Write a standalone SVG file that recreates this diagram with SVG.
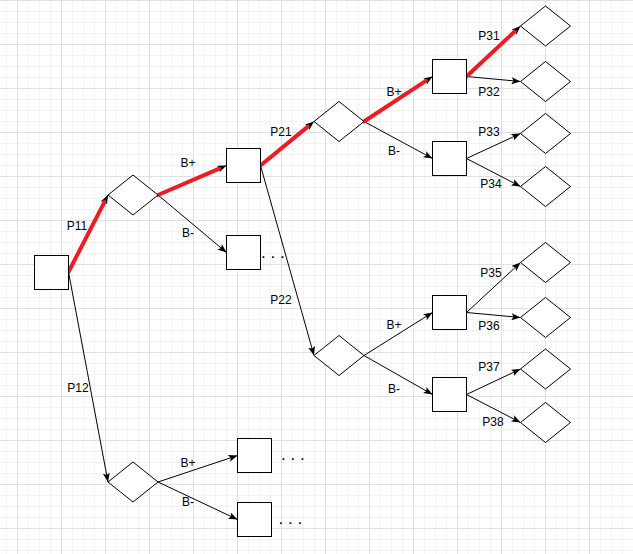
<svg xmlns="http://www.w3.org/2000/svg" width="633" height="554" viewBox="0 0 633 554">
  <style>
    .box { fill: #ffffff; stroke: #000000; stroke-width: 1; }
    .dia { fill: #ffffff; stroke: #000000; stroke-width: 1; }
    .edge { fill: none; stroke: #000000; stroke-width: 1; marker-end: url(#arrow); }
    .hot { fill: none; stroke: #ed1c24; stroke-width: 4; stroke-linecap: round; }
    .lbl { font-family: "Liberation Sans", Arial, Helvetica, sans-serif; font-size: 12px; fill: #000000; text-anchor: middle; }
    .dots { font-family: "Liberation Sans", Arial, Helvetica, sans-serif; font-size: 17px; fill: #000000; }
  </style>
  <defs>
    <pattern id="gridMinor" patternUnits="userSpaceOnUse" x="6" y="0" width="11" height="11">
      <rect x="0" y="0" width="1" height="11" fill="#f3f3f3"/>
      <rect x="0" y="0" width="11" height="1" fill="#f3f3f3"/>
    </pattern>
    <pattern id="gridMajor" patternUnits="userSpaceOnUse" x="17" y="0" width="44" height="44">
      <rect x="0" y="0" width="1" height="44" fill="#e0e0e0"/>
      <rect x="0" y="0" width="44" height="1" fill="#e0e0e0"/>
    </pattern>
    <marker id="arrow" viewBox="0 0 9 7" refX="9" refY="3.5" markerWidth="9" markerHeight="7" markerUnits="userSpaceOnUse" orient="auto">
      <path d="M0,0 L9,3.5 L0,7 L2,3.5 z" fill="#000000"/>
    </marker>
  </defs>

  <!-- background grid -->
  <rect width="633" height="554" fill="#ffffff"/>
  <rect width="633" height="554" fill="url(#gridMinor)"/>
  <rect width="633" height="554" fill="url(#gridMajor)"/>

  <!-- connectors -->
  <g id="connectors">
    <line class="edge" x1="68.5" y1="272" x2="108" y2="195"/>
    <line class="edge" x1="68.5" y1="272" x2="108" y2="482"/>
    <line class="edge" x1="158" y1="195" x2="226.5" y2="165.5"/>
    <line class="edge" x1="158" y1="195" x2="226.5" y2="252.5"/>
    <line class="edge" x1="158" y1="482" x2="237.5" y2="455.5"/>
    <line class="edge" x1="158" y1="482" x2="237.5" y2="519.5"/>
    <line class="edge" x1="260.5" y1="165.5" x2="314" y2="121.5"/>
    <line class="edge" x1="260.5" y1="165.5" x2="314" y2="355.5"/>
    <line class="edge" x1="364" y1="121.5" x2="432.5" y2="76.5"/>
    <line class="edge" x1="364" y1="121.5" x2="432.5" y2="158.5"/>
    <line class="edge" x1="364" y1="355.5" x2="432.5" y2="312.5"/>
    <line class="edge" x1="364" y1="355.5" x2="432.5" y2="394.5"/>
    <line class="edge" x1="466.5" y1="76.5" x2="520.5" y2="26"/>
    <line class="edge" x1="466.5" y1="76.5" x2="520.5" y2="81.5"/>
    <line class="edge" x1="466.5" y1="158.5" x2="520.5" y2="133.5"/>
    <line class="edge" x1="466.5" y1="158.5" x2="520.5" y2="186.5"/>
    <line class="edge" x1="466.5" y1="312.5" x2="520.5" y2="262.5"/>
    <line class="edge" x1="466.5" y1="312.5" x2="520.5" y2="317.5"/>
    <line class="edge" x1="466.5" y1="394.5" x2="520.5" y2="369"/>
    <line class="edge" x1="466.5" y1="394.5" x2="520.5" y2="422.5"/>

    <!-- highlighted path -->
    <line class="hot" x1="68.5" y1="272" x2="104.4" y2="202.1"/>
    <line class="hot" x1="158" y1="195" x2="219.2" y2="168.7"/>
    <line class="hot" x1="260.5" y1="165.5" x2="307.8" y2="126.6"/>
    <line class="hot" x1="364" y1="121.5" x2="425.8" y2="80.9"/>
    <line class="hot" x1="466.5" y1="76.5" x2="514.7" y2="31.5"/>

    <!-- edge labels -->
    <text class="lbl" x="77" y="230.3">P11</text>
    <text class="lbl" x="78" y="392.3">P12</text>
    <text class="lbl" x="188" y="167.3">B+</text>
    <text class="lbl" x="188" y="237.3">B-</text>
    <text class="lbl" x="188" y="466.8">B+</text>
    <text class="lbl" x="188" y="506.3">B-</text>
    <text class="lbl" x="281" y="136.3">P21</text>
    <text class="lbl" x="281" y="304.3">P22</text>
    <text class="lbl" x="394" y="96.3">B+</text>
    <text class="lbl" x="394" y="155.3">B-</text>
    <text class="lbl" x="394" y="329.3">B+</text>
    <text class="lbl" x="394" y="392.8">B-</text>
    <text class="lbl" x="489" y="40.3">P31</text>
    <text class="lbl" x="489" y="95.8">P32</text>
    <text class="lbl" x="489" y="135.8">P33</text>
    <text class="lbl" x="491" y="188.3">P34</text>
    <text class="lbl" x="491" y="276.8">P35</text>
    <text class="lbl" x="489" y="329.8">P36</text>
    <text class="lbl" x="489" y="371.3">P37</text>
    <text class="lbl" x="493" y="426.3">P38</text>
  </g>

  <!-- decision nodes -->
  <g id="d1"><polygon class="dia" points="108,195 133,175 158,195 133,215"/></g>
  <g id="d12"><polygon class="dia" points="108,482 133,462 158,482 133,502"/></g>
  <g id="d21"><polygon class="dia" points="314,121.5 339,101.5 364,121.5 339,141.5"/></g>
  <g id="d22"><polygon class="dia" points="314,355.5 339,335.5 364,355.5 339,375.5"/></g>
  <g id="d31"><polygon class="dia" points="520.5,26 545.5,6 570.5,26 545.5,46"/></g>
  <g id="d32"><polygon class="dia" points="520.5,81.5 545.5,61.5 570.5,81.5 545.5,101.5"/></g>
  <g id="d33"><polygon class="dia" points="520.5,133.5 545.5,113.5 570.5,133.5 545.5,153.5"/></g>
  <g id="d34"><polygon class="dia" points="520.5,186.5 545.5,166.5 570.5,186.5 545.5,206.5"/></g>
  <g id="d35"><polygon class="dia" points="520.5,262.5 545.5,242.5 570.5,262.5 545.5,282.5"/></g>
  <g id="d36"><polygon class="dia" points="520.5,317.5 545.5,297.5 570.5,317.5 545.5,337.5"/></g>
  <g id="d37"><polygon class="dia" points="520.5,369 545.5,349 570.5,369 545.5,389"/></g>
  <g id="d38"><polygon class="dia" points="520.5,422.5 545.5,402.5 570.5,422.5 545.5,442.5"/></g>

  <!-- state nodes -->
  <g id="root"><rect class="box" x="34.5" y="255.5" width="34" height="34"/></g>
  <g id="s2a"><rect class="box" x="226.5" y="148.5" width="34" height="34"/></g>
  <g id="s2b">
    <rect class="box" x="226.5" y="235.5" width="34" height="34"/>
    <text class="dots" x="261" y="258">. . .</text>
  </g>
  <g id="s2c">
    <rect class="box" x="237.5" y="438.5" width="34" height="34"/>
    <text class="dots" x="281" y="460">. . .</text>
  </g>
  <g id="s2d">
    <rect class="box" x="237.5" y="502.5" width="34" height="34"/>
    <text class="dots" x="278.5" y="524">. . .</text>
  </g>
  <g id="s3a"><rect class="box" x="432.5" y="59.5" width="34" height="34"/></g>
  <g id="s3b"><rect class="box" x="432.5" y="141.5" width="34" height="34"/></g>
  <g id="s3c"><rect class="box" x="432.5" y="295.5" width="34" height="34"/></g>
  <g id="s3d"><rect class="box" x="432.5" y="377.5" width="34" height="34"/></g>
</svg>
